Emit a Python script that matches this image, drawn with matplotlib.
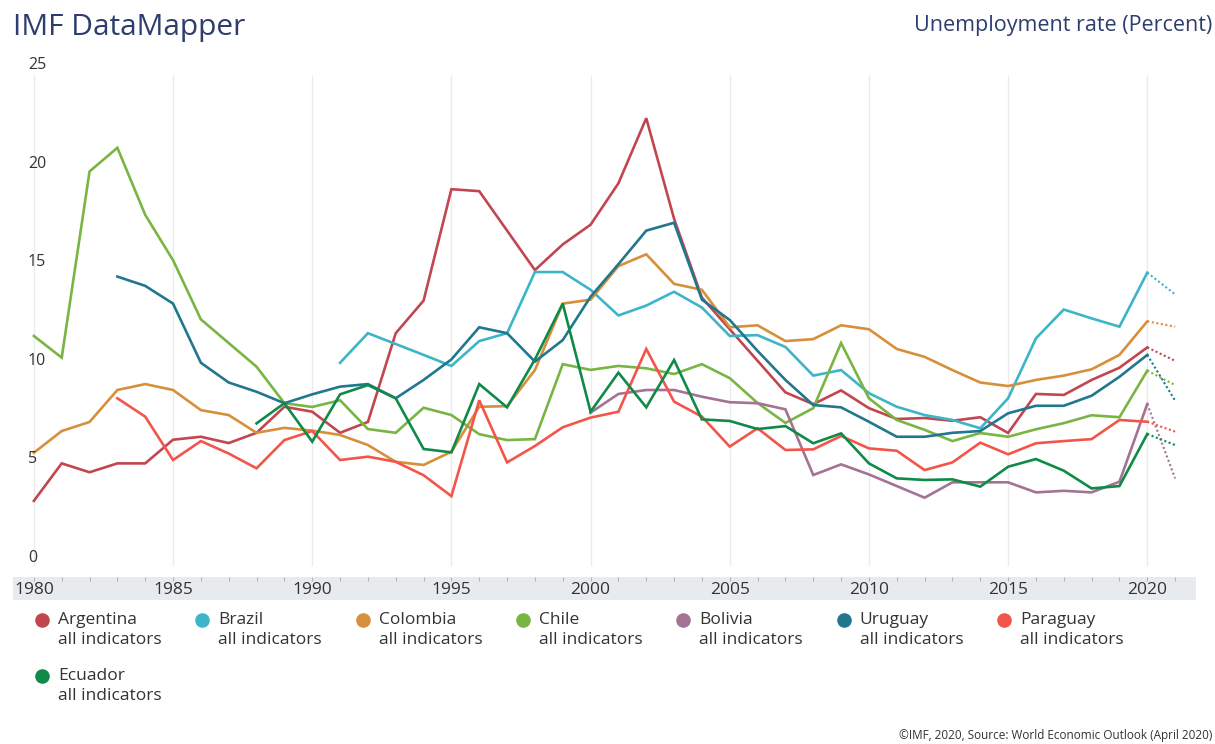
import numpy as np
import matplotlib.pyplot as plt
from matplotlib.lines import Line2D

plt.rcParams['font.family'] = ['Open Sans', 'DejaVu Sans']

nan = np.nan
years = np.arange(1980, 2022)

countries = ['Argentina', 'Brazil', 'Colombia', 'Chile', 'Bolivia', 'Uruguay', 'Paraguay', 'Ecuador']
colors = ['#c2464f', '#3db5c9', '#d78f3b', '#79b543', '#a47394', '#21778e', '#f3554b', '#108a48']

argentina = [2.9, 4.8, 4.35, 4.8, 4.8, 6.0, 6.15, 5.83, 6.35, 7.67,
             7.42, 6.35, 6.9, 11.4, 13.05, 18.7, 18.6, 16.6, 14.6, 15.9,
             16.9, 19.0, 22.3, 17.2, 13.2, 11.6, 10.0, 8.4, 7.8, 8.5,
             7.6, 7.05, 7.1, 6.96, 7.14, 6.34, 8.32, 8.27, 9.03, 9.65,
             10.68, 10.0]
brazil = [nan] * 11 + [9.9, 11.4, 10.85, 10.3, 9.74, 11.0, 11.4, 14.5, 14.5,
                       13.6, 12.3, 12.8, 13.5, 12.7, 11.26, 11.3, 10.7, 9.25, 9.53,
                       8.36, 7.67, 7.25, 7.0, 6.58, 8.1, 11.14, 12.6, 12.15, 11.73,
                       14.47, 13.37]
colombia = [5.34, 6.44, 6.9, 8.52, 8.82, 8.52, 7.5, 7.25, 6.35, 6.6,
            6.46, 6.24, 5.73, 4.88, 4.72, 5.39, 7.67, 7.7, 9.53, 12.9,
            13.1, 14.8, 15.4, 13.9, 13.6, 11.7, 11.8, 11.0, 11.1, 11.8,
            11.6, 10.6, 10.2, 9.53, 8.9, 8.72, 9.03, 9.25, 9.57, 10.3,
            12.0, 11.73]
chile = [11.26, 10.16, 19.6, 20.8, 17.4, 15.1, 12.1, 10.9, 9.7, 7.85,
         7.66, 8.0, 6.54, 6.35, 7.62, 7.25, 6.28, 5.98, 6.03, 9.83,
         9.54, 9.74, 9.62, 9.33, 9.83, 9.12, 7.86, 6.85, 7.6, 10.9,
         8.1, 7.0, 6.5, 5.93, 6.34, 6.15, 6.53, 6.84, 7.24, 7.14,
         9.5, 8.77]
bolivia = [nan] * 20 + [7.37, 8.32, 8.52, 8.52, 8.18, 7.9, 7.85, 7.54, 4.21, 4.75,
                        4.24, 3.65, 3.06, 3.84, 3.84, 3.84, 3.33, 3.41, 3.33, 3.87,
                        7.81, 4.04]
uruguay = [nan] * 3 + [14.27, 13.8, 12.9, 9.9, 8.9, 8.43, 7.85,
                       8.3, 8.69, 8.82, 8.1, 9.03, 10.07, 11.7, 11.4, 9.96, 11.05,
                       13.25, 14.9, 16.6, 17.0, 13.1, 12.07, 10.5, 9.03, 7.76, 7.64,
                       6.91, 6.15, 6.15, 6.35, 6.44, 7.34, 7.72, 7.72, 8.23, 9.19,
                       10.3, 7.98]
paraguay = [nan] * 3 + [8.1, 7.17, 4.97, 5.93, 5.3, 4.55, 5.98,
                        6.44, 4.97, 5.14, 4.88, 4.2, 3.14, 8.0, 4.85, 5.68, 6.63,
                        7.12, 7.42, 10.6, 7.93, 7.17, 5.65, 6.58, 5.48, 5.51, 6.19,
                        5.56, 5.44, 4.46, 4.85, 5.85, 5.26, 5.82, 5.93, 6.03, 7.0,
                        6.91, 6.41]
ecuador = [nan] * 8 + [6.83, 7.85,
                       5.9, 8.3, 8.77, 8.1, 5.53, 5.36, 8.82, 7.64, 10.07, 12.9,
                       7.42, 9.4, 7.64, 10.04, 7.03, 6.95, 6.54, 6.69, 5.82, 6.32,
                       4.8, 4.04, 3.96, 3.99, 3.62, 4.63, 5.02, 4.43, 3.53, 3.65,
                       6.29, 5.73]

series = [argentina, brazil, colombia, chile, bolivia, uruguay, paraguay, ecuador]

W, H = 1215, 744
def fx(px):
    return px / W
def fy(py):
    return 1 - py / H

fig = plt.figure(figsize=(W / 100, H / 100), dpi=100)

ax = fig.add_axes([fx(13), fy(577), fx(1196) - fx(13), fy(60) - fy(577)])
ax.set_xlim(1979.25, 2021.75)
ax.set_ylim(-0.96, 25.25)
ax.axis('off')

# vertical grid
ax.vlines(np.arange(1980, 2021, 5), -0.4, 24.5, color='#ebebeb', lw=1, zorder=0)

# y labels sit inside the plot
for v in range(0, 26, 5):
    ax.text(1979.78, v, str(v), ha='left', va='center', fontsize=11.5, color='#333333')

last = len(years) - 1
for vals, c in zip(series, colors):
    vals = np.array(vals, dtype=float)
    ax.plot(years[:last], vals[:last], color=c, lw=1.9, solid_joinstyle='miter')
    ax.plot(years[last - 1:], vals[last - 1:], color=c, lw=1.5, linestyle=(0, (1, 1.2)))

# gray axis band
band = fig.add_axes([fx(13), fy(600), fx(1196) - fx(13), fy(577) - fy(600)])
band.set_facecolor('#e8ebee')
band.set_xlim(1979.25, 2021.75)
band.set_ylim(0, 1)
for s in band.spines.values():
    s.set_visible(False)
band.set_yticks([])
band.set_xticks(np.arange(1980, 2022))
band.tick_params(axis='x', top=True, bottom=False, labelbottom=False, direction='in',
                 length=3, color='#b5b5b5', width=0.8)
for yr in range(1980, 2021, 5):
    band.text(yr, 0.45, str(yr), ha='center', va='center', fontsize=12.5, color='#333333')

# titles
fig.text(fx(13), fy(27), 'IMF DataMapper', fontsize=21.5, color='#2d3e6e', va='center')
fig.text(fx(1212), fy(25), 'Unemployment rate (Percent)', fontsize=15.5, color='#2d3e6e',
         ha='right', va='center')

# legend
for i, (name, c) in enumerate(zip(countries, colors)):
    cx = 42 + (i % 7) * 160.3
    cy = 620 + (i // 7) * 56
    fig.add_artist(Line2D([fx(cx)], [fy(cy)], marker='o', markersize=10.5, color=c,
                          markeredgewidth=0, transform=fig.transFigure))
    fig.text(fx(cx + 16), fy(cy), name, fontsize=12.5, color='#333333', va='center')
    fig.text(fx(cx + 16), fy(cy + 20), 'all indicators', fontsize=12.5, color='#333333', va='center')

fig.text(fx(1212), fy(735), '\u00a9IMF, 2020, Source: World Economic Outlook (April 2020)',
         fontsize=8.5, color='#333333', ha='right', va='center')

fig.savefig('out.png', dpi=100)
